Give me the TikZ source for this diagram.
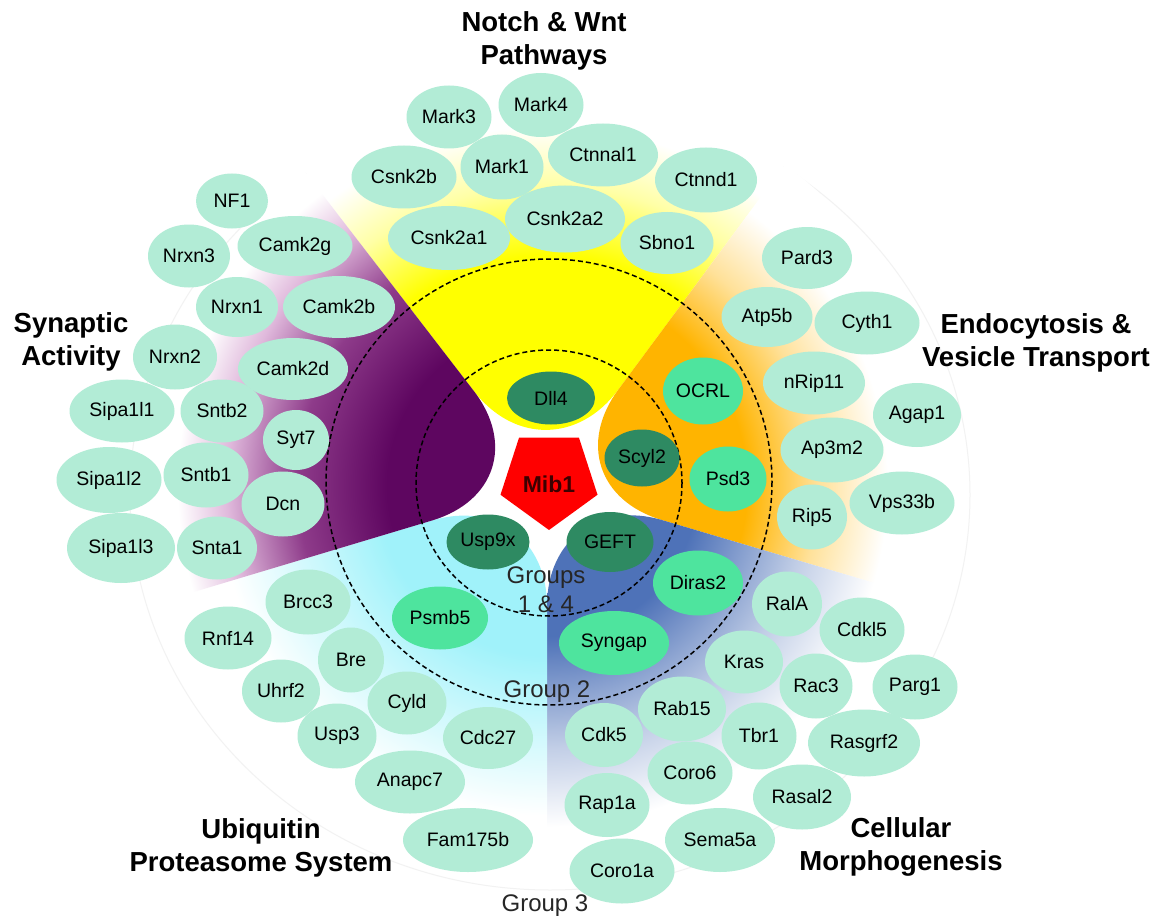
\documentclass[tikz,border=0pt]{standalone}
\usepackage{fontspec}
\setmainfont{Liberation Sans}
\usetikzlibrary{shapes.geometric,calc}
\definecolor{mint}{RGB}{178,236,214}
\definecolor{grpB}{RGB}{78,228,158}
\definecolor{grpA}{RGB}{46,138,98}
\definecolor{yel}{RGB}{255,255,0}
\definecolor{org}{RGB}{255,180,0}
\definecolor{blu}{RGB}{78,114,184}
\definecolor{cya}{RGB}{160,242,250}
\definecolor{pur}{RGB}{94,6,96}
\definecolor{purmid}{RGB}{142,59,138}
\definecolor{purlt}{RGB}{224,185,220}
\definecolor{mibtext}{RGB}{60,0,0}
% the central 50bp square of a shading is fitted to the path: 25bp = radius 400
\pgfdeclareradialshading{shYel}{\pgfpointorigin}{color(0bp)=(yel); color(14.4bp)=(yel); color(18.8bp)=(yel!35!white); color(22.5bp)=(white); color(50bp)=(white)}
\pgfdeclareradialshading{shOrg}{\pgfpointorigin}{color(0bp)=(org); color(12.5bp)=(org); color(16.9bp)=(org!40!white); color(21.3bp)=(white); color(50bp)=(white)}
\pgfdeclareradialshading{shBlu}{\pgfpointorigin}{color(0bp)=(blu); color(9.4bp)=(blu); color(16.3bp)=(blu!35!white); color(21.3bp)=(white); color(50bp)=(white)}
\pgfdeclareradialshading{shCya}{\pgfpointorigin}{color(0bp)=(cya); color(10.6bp)=(cya); color(20.6bp)=(white); color(50bp)=(white)}
\pgfdeclareradialshading{shPur}{\pgfpointorigin}{color(0bp)=(pur); color(10bp)=(pur); color(15.6bp)=(purmid); color(20bp)=(purlt); color(23.1bp)=(white); color(50bp)=(white)}
\newcommand\genenode[6][mint]{\node[gene,fill=#1,minimum width=#5pt,minimum height=#6pt] (#2) at (#3,#4) {#2};}
\newcommand\sectorfill[3]{\begin{scope}\clip[rounded corners=120pt] ($(C)+(#1:700)$) -- (C) -- ($(C)+(#2:700)$) -- cycle; \shade[shading=#3] (C) circle (400); \end{scope}}
\begin{document}
\begin{tikzpicture}[x=1pt,y=-1pt,
  gene/.style={ellipse, inner sep=0pt, text=black, font=\fontsize{19.5}{22}\selectfont},
  ring/.style={dash pattern=on 5pt off 3pt, line width=1.5pt, black},
  title/.style={align=center, font=\fontsize{27.5}{33}\selectfont\bfseries, text=black},
  grplabel/.style={align=center, font=\fontsize{24}{29}\selectfont, text=black!85},
  outline/.style={gray!10, line width=1pt}]
\fill[white] (0,0) rectangle (1164,920);
\useasboundingbox (0,0) rectangle (1164,920);
\coordinate (C) at (547,486);
% faint outer outline
\draw[outline] (550,495) ellipse [x radius=420, y radius=395];
% sectors
\sectorfill{-127.6}{-53.5}{shYel}
\sectorfill{-53.5}{16.5}{shOrg}
\sectorfill{16.5}{90}{shBlu}
\sectorfill{90}{163.3}{shCya}
\sectorfill{163.3}{232.4}{shPur}
% group rings
\draw[ring] (549,483) circle (133);
\draw[ring] (549,482) circle (223);
% Notch & Wnt
\genenode{Mark3}{449}{117}{85}{63}
\genenode{Mark4}{541}{105}{85}{64}
\genenode{Mark1}{502}{167}{83}{65}
\genenode{Ctnnal1}{603}{155}{110}{63}
\genenode{Csnk2b}{404}{177}{105}{63}
\genenode{Ctnnd1}{706}{180}{102}{65}
\genenode{Csnk2a1}{449}{238}{122}{64}
\genenode{Csnk2a2}{565}{219}{120}{67}
\genenode{Sbno1}{667}{243}{93}{62}
% Synaptic
\genenode{NF1}{232}{201}{72}{55}
\genenode{Camk2g}{295}{246}{115}{60}
\genenode{Nrxn3}{189}{256}{82}{63}
\genenode{Nrxn1}{237}{307}{82}{60}
\genenode{Camk2b}{339}{307}{112}{62}
\genenode{Nrxn2}{175}{357}{84}{65}
\genenode{Camk2d}{293}{369}{110}{62}
\genenode{Sipa1l1}{122}{411}{105}{63}
\genenode{Sntb2}{222}{411}{83}{63}
\genenode{Syt7}{296}{440}{66}{60}
\genenode{Sipa1l2}{109}{480}{105}{66}
\genenode{Sntb1}{206}{475}{85}{65}
\genenode{Dcn}{283}{504}{83}{65}
\genenode{Sipa1l3}{121}{548}{108}{70}
\genenode{Snta1}{217}{548}{80}{63}
% Ubiquitin
\genenode{Brcc3}{308}{602}{85}{65}
\genenode{Rnf14}{228}{638}{87}{63}
\genenode{Bre}{351}{660}{66}{65}
\genenode{Uhrf2}{281}{691}{78}{63}
\genenode{Cyld}{407}{703}{79}{63}
\genenode{Usp3}{337}{736}{79}{65}
\genenode{Cdc27}{488}{738}{90}{62}
\genenode{Anapc7}{410}{782}{110}{63}
\genenode{Fam175b}{468}{840}{130}{64}
% Cellular morphogenesis
\genenode{RalA}{787}{604}{70}{65}
\genenode{Cdkl5}{862}{630}{85}{65}
\genenode{Kras}{744}{662}{78}{63}
\genenode{Rac3}{816}{686}{73}{65}
\genenode{Parg1}{915}{687}{85}{65}
\genenode{Rab15}{682}{709}{88}{65}
\genenode{Tbr1}{759}{736}{75}{67}
\genenode{Rasgrf2}{864}{743}{112}{67}
\genenode{Cdk5}{604}{735}{78}{64}
\genenode{Coro6}{690}{773}{85}{63}
\genenode{Rasal2}{802}{797}{98}{65}
\genenode{Rap1a}{607}{805}{85}{64}
\genenode{Sema5a}{720}{840}{110}{64}
\genenode{Coro1a}{622}{871}{105}{65}
% Endocytosis
\genenode{Pard3}{807}{258}{90}{62}
\genenode{Atp5b}{767}{317}{91}{60}
\genenode{Cyth1}{867}{323}{105}{63}
\genenode{nRip11}{814}{383}{102}{63}
\genenode{Agap1}{917}{415}{88}{64}
\genenode{Ap3m2}{832}{450}{103}{65}
\genenode{Vps33b}{902}{503}{105}{63}
\genenode{Rip5}{812}{517}{70}{65}
% Group 2
\genenode[grpB]{OCRL}{703}{391}{80}{67}
\genenode[grpB]{Psd3}{728}{479}{77}{65}
\genenode[grpB]{Diras2}{698}{583}{90}{65}
\genenode[grpB]{Syngap}{614}{643}{110}{64}
\genenode[grpB]{Psmb5}{440}{618}{96}{63}
% Groups 1 & 4
\genenode[grpA]{Dll4}{551}{398}{88}{53}
\genenode[grpA]{Scyl2}{642}{458}{75}{57}
\genenode[grpA]{GEFT}{610}{542}{87}{60}
\genenode[grpA]{Usp9x}{488}{542}{83}{55}
% Mib1
\node[regular polygon, regular polygon sides=5, shape border rotate=180, minimum size=102pt, inner sep=0pt, fill=red] (Mib1) at (549,479) {};
\node[font=\fontsize{23}{26}\selectfont\bfseries, text=mibtext] (Mib1text) at (549,484) {Mib1};
% group labels
\node[grplabel] (G14) at (546,590) {Groups\\1 \& 4};
\node[grplabel] (G2) at (547,692) {Group 2};
\node[grplabel] (G3) at (545,906) {Group 3};
% category titles
\node[title] (tNotch) at (544,41) {Notch \& Wnt\\Pathways};
\node[title] (tSyn) at (71,342) {Synaptic\\Activity};
\node[title] (tEndo) at (1036,343) {Endocytosis \&\\Vesicle Transport};
\node[title] (tUbi) at (261,848) {Ubiquitin\\Proteasome System};
\node[title] (tCell) at (901,847) {Cellular\\Morphogenesis};
\end{tikzpicture}
\end{document}
